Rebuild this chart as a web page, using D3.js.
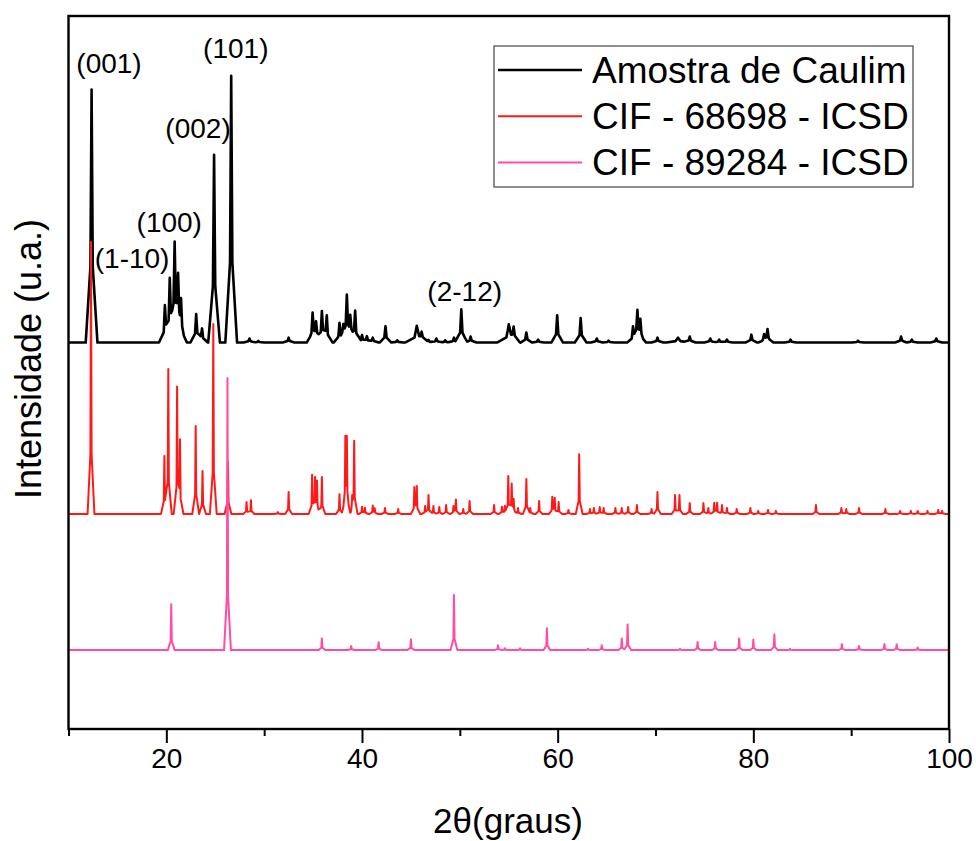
<!DOCTYPE html>
<html>
<head>
<meta charset="utf-8">
<script src="https://cdn.jsdelivr.net/npm/d3@7"></script>
<style>
  html, body { margin: 0; padding: 0; background: #fff; }
  svg { display: block; font-family: "Liberation Sans", Arial, sans-serif; }
</style>
</head>
<body>
<svg id="chart" width="976" height="841"></svg>
<script>
// ---------------- DATA ----------------
// Peak lists: [2θ (degrees), relative intensity, optional broadening factor]
const seriesNames = ["Amostra de Caulim", "CIF - 68698 - ICSD", "CIF - 89284 - ICSD"];

const kaolinSamplePeaks = [
  [12.36, 93], [19.85, 12.5], [20.35, 21], [20.85, 33], [21.2, 18], [21.5, 13],
  [23.05, 10.5], [23.65, 5.2], [24.88, 69], [26.63, 98], [28.5, 1.5], [29.4, 0.6],
  [32.5, 1.8], [34.95, 10], [35.3, 6.3], [35.9, 11], [36.4, 9.3], [37.7, 6.8],
  [38.1, 3.5], [38.45, 16], [38.8, 7], [39.3, 11.3], [40.0, 2.6], [40.5, 2.2],
  [41.1, 1.8], [42.4, 6.0], [43.6, 0.8], [45.6, 6.0, 2], [46.1, 2.7], [46.8, 1.0],
  [47.6, 1.5], [48.5, 0.8], [49.4, 1.8], [50.15, 12.2], [51.1, 2.2], [55.0, 6.4, 2],
  [55.5, 4.5], [56.8, 3.7], [58.0, 1.1], [59.95, 10.0], [62.35, 9.0], [64.0, 1.5],
  [65.2, 0.7], [67.7, 5.0], [68.15, 10.3], [68.45, 6.8], [70.2, 1.8], [72.3, 1.8, 2],
  [73.5, 2.2], [75.6, 1.5], [76.5, 1.1], [77.3, 1.1], [79.8, 2.9], [81.1, 2.4],
  [81.45, 4.6], [83.8, 1.1], [90.7, 0.7], [95.1, 2.2], [96.2, 1.1], [98.7, 1.5]
];

const cif68698Peaks = [
  [12.3, 100], [19.8, 21.3], [20.2, 53.3], [21.1, 45.9], [21.4, 25.7], [23.0, 32.3],
  [23.7, 15.8], [24.8, 69.8], [26.3, 19.1], [28.2, 4.4], [28.65, 5.1], [31.4, 0.7],
  [32.5, 8.1], [34.9, 14], [35.2, 11.8], [35.4, 11], [35.9, 13.6], [37.7, 7.3],
  [38.3, 25], [38.45, 25], [39.0, 4], [39.2, 26.5], [40.0, 2.6], [40.3, 2.2],
  [41.1, 2.9], [41.3, 1.8], [42.35, 2.2], [43.7, 1.8], [45.35, 9.2], [45.6, 9.6],
  [46.45, 2.9], [46.8, 7], [47.3, 2.9], [47.9, 2.6], [48.6, 3.3], [49.35, 2.6],
  [49.6, 5.1], [50.35, 1.8], [51.0, 4.8], [53.5, 3.3], [54.3, 2.6], [54.6, 2.9],
  [54.95, 14], [55.3, 10.7], [55.5, 4.4], [55.95, 2.2], [56.8, 12.9], [57.2, 2.2],
  [58.1, 4.8], [59.45, 5.9], [59.7, 5.5], [60.1, 4.4], [61.1, 1.5], [62.2, 22],
  [63.3, 1.8], [63.7, 2.2], [64.3, 2.6], [64.7, 2.2], [65.9, 2.2], [66.55, 2.2],
  [67.2, 2.6], [68.1, 3.3], [69.6, 1.8], [70.2, 8.1], [72.0, 7], [72.45, 7],
  [73.5, 4], [74.9, 4], [75.4, 2.2], [76.0, 4], [76.3, 4], [76.8, 3.3], [77.3, 2.2],
  [78.3, 1.8], [79.7, 2.2], [80.5, 1.1], [81.5, 1.5], [82.3, 1.1], [86.4, 3.3],
  [89.0, 2.2], [89.5, 1.8], [90.8, 2.2], [93.5, 1.8], [95.0, 1.1], [96.1, 1.1],
  [96.8, 1.1], [97.8, 1.1], [98.9, 1.5], [99.3, 1.1]
];

const cif89284Peaks = [
  [20.5, 16.8], [26.25, 100], [35.9, 4.3], [38.9, 1.5], [41.7, 2.9], [45.0, 4],
  [49.4, 20.2], [53.9, 1.8], [54.6, 0.7], [56.15, 0.7], [58.9, 8], [63.1, 0.5],
  [64.5, 1.8], [66.55, 4.3], [67.15, 9.4], [72.5, 0.5], [74.3, 3], [76.1, 3],
  [78.55, 4.3], [80.0, 3.9], [82.15, 5.8], [83.75, 0.5], [89.05, 2.1], [90.8, 1.5],
  [93.4, 2.2], [94.65, 2.1], [96.8, 0.9]
];

// vertical offsets of the stacked patterns (same units as intensity)
const seriesOffsets = [142, 79, 29];

// hkl annotations: [label, 2θ, level]
const annotations = [
  ["(001)", 14.14, 241.2],
  ["(101)", 27.1, 246.6],
  ["(002)", 23.24, 217.2],
  ["(100)", 20.3, 182.6],
  ["(1-10)", 16.5, 169.3],
  ["(2-12)", 50.5, 157.2]
];

const xMajorTicks = [20, 40, 60, 80, 100];
const xMinorTicks = [10, 30, 50, 70, 90];
const xDomain = [10, 100];
const yDomain = [0, 262];
const xTitle = "2θ(graus)";
const yTitle = "Intensidade (u.a.)";

// ---------------- STYLE / LAYOUT ----------------
const colors = ["#000000", "#ff1a1a", "#ff4da6"];
const strokeWidths = [2.6, 2.0, 2.0];
// peak shape (degrees): half base width, shoulder offset, shoulder fraction
const shapes = [
  { b: 0.6, s: 0.12, k: 0.3 },
  { b: 0.35, s: 0.06, k: 0.22 },
  { b: 0.35, s: 0.06, k: 0.2 }
];
const plot = { left: 68.5, right: 949, top: 16, bottom: 729 };

const svg = d3.select("#chart");
const x = d3.scaleLinear().domain(xDomain).range([plot.left, plot.right]);
const y = d3.scaleLinear().domain(yDomain).range([plot.bottom, plot.top]);

function profile(peaks, offset, shape) {
  const verts = new Set([xDomain[0], xDomain[1]]);
  peaks.forEach(p => {
    const w = p[2] || 1;
    [-shape.b * w, -shape.s * w, 0, shape.s * w, shape.b * w].forEach(d => {
      const v = +(p[0] + d).toFixed(4);
      if (v >= xDomain[0] && v <= xDomain[1]) verts.add(v);
    });
  });
  const xs = Array.from(verts).sort((a, b) => a - b);
  return xs.map(xv => {
    let sum = 0;
    peaks.forEach(p => {
      const w = p[2] || 1;
      const d = Math.abs(xv - p[0]);
      const b = shape.b * w, s = shape.s * w;
      if (d >= b) return;
      if (d <= s) sum += p[1] * (1 - (1 - shape.k) * d / s);
      else sum += p[1] * shape.k * (b - d) / (b - s);
    });
    return [xv, offset + sum];
  });
}

const line = d3.line().x(d => x(d[0])).y(d => y(d[1]));
const allPeaks = [kaolinSamplePeaks, cif68698Peaks, cif89284Peaks];

svg.append("defs").append("clipPath").attr("id", "clip")
  .append("rect").attr("x", plot.left).attr("y", plot.top)
  .attr("width", plot.right - plot.left).attr("height", plot.bottom - plot.top);

const g = svg.append("g").attr("clip-path", "url(#clip)");
allPeaks.forEach((peaks, i) => {
  g.append("path")
    .datum(profile(peaks, seriesOffsets[i], shapes[i]))
    .attr("fill", "none")
    .attr("stroke", colors[i])
    .attr("stroke-width", strokeWidths[i])
    .attr("stroke-linejoin", "round")
    .attr("d", line);
});

// frame
svg.append("rect")
  .attr("x", plot.left).attr("y", plot.top)
  .attr("width", plot.right - plot.left).attr("height", plot.bottom - plot.top)
  .attr("fill", "none").attr("stroke", "#000").attr("stroke-width", 2.4);

// x axis
const xAxis = d3.axisBottom(x).tickValues(xMajorTicks).tickSize(14).tickPadding(5)
  .tickFormat(d3.format("d"));
const ax = svg.append("g").attr("transform", `translate(0,${plot.bottom})`).call(xAxis);
ax.select(".domain").remove();
ax.selectAll(".tick line").attr("stroke-width", 2);
ax.selectAll(".tick text")
  .attr("font-family", "Liberation Sans, Arial, sans-serif")
  .attr("font-size", 28).attr("fill", "#000");
const axMinor = d3.axisBottom(x).tickValues(xMinorTicks).tickSize(7).tickFormat("");
const am = svg.append("g").attr("transform", `translate(0,${plot.bottom})`).call(axMinor);
am.select(".domain").remove();
am.selectAll(".tick line").attr("stroke-width", 2);

// axis titles
svg.append("text")
  .attr("x", 508).attr("y", 833)
  .attr("text-anchor", "middle").attr("font-size", 35).text(xTitle);
svg.append("text")
  .attr("transform", `translate(41,359) rotate(-90)`)
  .attr("text-anchor", "middle").attr("font-size", 36).text(yTitle);

// annotations
svg.append("g").selectAll("text").data(annotations).join("text")
  .attr("x", d => x(d[1])).attr("y", d => y(d[2]))
  .attr("text-anchor", "middle").attr("font-size", 28)
  .text(d => d[0]);

// legend
const legend = svg.append("g");
legend.append("rect").attr("x", 494).attr("y", 46).attr("width", 419).attr("height", 141)
  .attr("fill", "#fff").attr("stroke", "#444").attr("stroke-width", 1.2);
seriesNames.forEach((name, i) => {
  const ly = 70 + i * 46.2;
  legend.append("line").attr("x1", 498).attr("x2", 582).attr("y1", ly).attr("y2", ly)
    .attr("stroke", colors[i]).attr("stroke-width", strokeWidths[i]);
  legend.append("text").attr("x", 592).attr("y", ly + 12.7)
    .attr("font-size", 37).text(name);
});
</script>
</body>
</html>
